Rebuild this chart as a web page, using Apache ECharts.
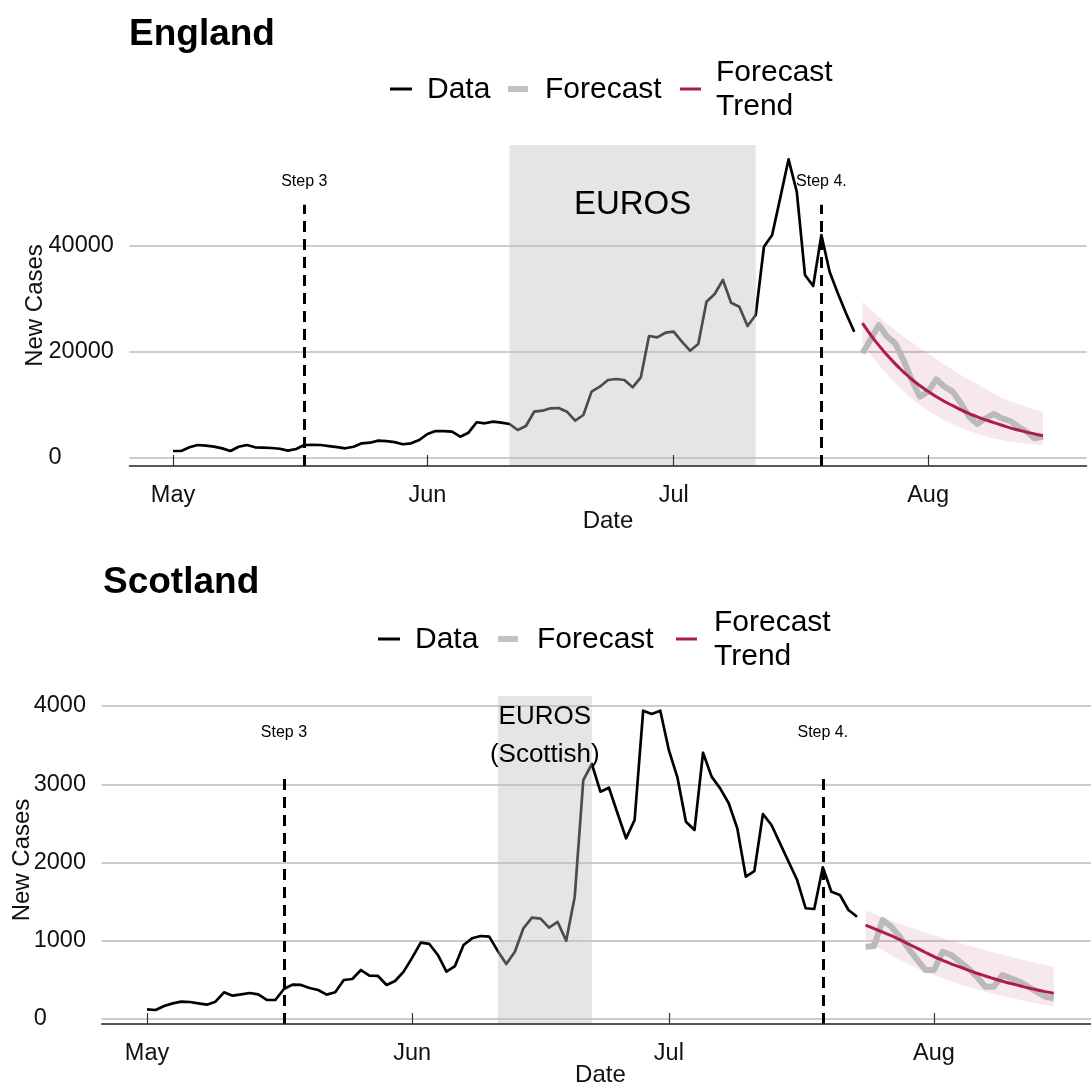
<!DOCTYPE html>
<html>
<head>
<meta charset="utf-8">
<script src="https://cdn.jsdelivr.net/npm/echarts@6/dist/echarts.min.js"></script>
<style>
  html, body { margin: 0; padding: 0; background: #ffffff; }
  #chart { width: 1091px; height: 1083px; }
</style>
</head>
<body>
<div id="chart"></div>
<script>
// Days are counted from 1 May 2021 (day 0).
const monthTickDays = [0, 31, 61, 92];
const monthTickLabels = ['May', 'Jun', 'Jul', 'Aug'];
const dataStartDay = 0;        // 1 May
const forecastStartDay = 84;   // 24 Jul
const step3Day = 16;           // 17 May
const step4Day = 79;           // 19 Jul
const eurosStartDay = 41;      // 11 Jun
const eurosEndEngland = 71;    // 11 Jul (final)
const eurosEndScotland = 52;   // 22 Jun (last Scotland match)

// England: daily new cases, 1 May - 23 Jul
const englandCases = [
  1230, 1230, 1930, 2360, 2230, 2050, 1720, 1230, 2040, 2360,
  1930, 1870, 1800, 1660, 1290, 1610, 2360, 2380, 2360, 2150,
  1950, 1740, 2040, 2680, 2800, 3180, 3100, 2900, 2500, 2680,
  3310, 4440, 5010, 5000, 4880, 3930, 4690, 6660, 6470, 6770,
  6580, 6340, 5200, 5960, 8660, 8850, 9300, 9360, 8660, 6960,
  8040, 12450, 13390, 14660, 14850, 14660, 13270, 15160, 22980, 22730,
  23600, 23790, 21900, 20200, 21460, 29460, 30920, 33570, 29270, 28520,
  24870, 26950, 39860, 42080, 49200, 56390, 50260, 34510, 32430, 42080,
  35140, 31050, 27270, 23790
];
// England: forecast 24 Jul - 15 Aug
const englandForecast = [
  19700, 22300, 25060, 22850, 21590, 18440, 14660, 11500, 12450, 14780,
  13390, 12450, 10250, 7720, 6340, 7410, 8230, 7410, 6900, 5820,
  4880, 3630, 3940
];
const englandTrend = [
  25400, 23200, 21200, 19400, 17700, 16200, 14800, 13600, 12500, 11500,
  10600, 9800, 9000, 8300, 7700, 7100, 6600, 6100, 5600, 5200,
  4800, 4450, 4120
];
const englandTrendUpper = [
  29400, 28000, 26600, 25300, 24100, 22900, 21800, 20700, 19600, 18600,
  17600, 16600, 15600, 14700, 13900, 13000, 12100, 11300, 10700, 10100,
  9600, 9100, 8600
];
const englandTrendLower = [
  21600, 19500, 17500, 15700, 14000, 12500, 11100, 9900, 8800, 7900,
  7000, 6300, 5600, 5000, 4500, 4000, 3600, 3300, 3000, 2800,
  2600, 2400, 2300
];

// Scotland: daily new cases, 1 May - 23 Jul
const scotlandCases = [
  124, 115, 166, 200, 221, 217, 200, 183, 221, 341,
  298, 315, 332, 315, 243, 243, 383, 439, 435, 396,
  370, 311, 341, 498, 511, 626, 554, 550, 435, 486,
  605, 784, 975, 959, 818, 605, 677, 946, 1031, 1061,
  1052, 870, 703, 860, 1159, 1295, 1282, 1167, 1240, 1001,
  1563, 3054, 3259, 2905, 2956, 2629, 2309, 2543, 3940, 3898,
  3940, 3438, 3089, 2522, 2415, 3403, 3097, 2948, 2757, 2437,
  1819, 1891, 2620, 2479, 2245, 2010, 1776, 1415, 1406, 1939,
  1627, 1585, 1393, 1307
];
// Scotland: forecast 24 Jul - 15 Aug
const scotlandForecast = [
  924, 933, 1265, 1180, 1052, 903, 763, 626, 626, 860,
  818, 733, 648, 541, 413, 413, 562, 520, 477, 413,
  349, 285, 264
];
const scotlandTrend = [
  1201, 1155, 1110, 1065, 1015, 960, 905, 850, 798, 750,
  705, 665, 625, 585, 550, 515, 483, 453, 425, 398,
  373, 350, 328
];
const scotlandTrendUpper = [
  1390, 1345, 1300, 1260, 1220, 1180, 1140, 1105, 1070, 1035,
  1000, 970, 940, 910, 880, 850, 820, 795, 770, 740,
  715, 690, 670
];
const scotlandTrendLower = [
  1030, 950, 880, 815, 755, 700, 650, 600, 560, 520,
  480, 445, 410, 380, 350, 320, 295, 270, 245, 220,
  200, 180, 160
];

const englandYTicks = [0, 20000, 40000];
const scotlandYTicks = [0, 1000, 2000, 3000, 4000];

// ---- styling ----
const FONT = '"Liberation Sans", Arial, Helvetica, sans-serif';
const TREND_RED = '#ad1d47';
const FORECAST_GREY = '#bababa';
const GRID_GREY = '#cccccc';

function pairs(startDay, values) {
  return values.map((v, i) => [startDay + i, v]);
}

// One polygon per panel: upper edge left-to-right, then lower edge back.
function ribbonSeries(xi, upper, lower) {
  const rows = upper.map((u, i) => [forecastStartDay + i, u, lower[i]]);
  return {
    type: 'custom', xAxisIndex: xi, yAxisIndex: xi, z: 2, silent: true,
    data: rows,
    encode: { x: 0, y: [1, 2] },
    renderItem: function (params, api) {
      if (params.dataIndex !== 0) return null;
      const top = rows.map(r => api.coord([r[0], r[1]]));
      const bottom = rows.slice().reverse().map(r => api.coord([r[0], r[2]]));
      return {
        type: 'polygon',
        shape: { points: top.concat(bottom) },
        style: { fill: 'rgba(176,32,74,0.10)' }
      };
    }
  };
}

function panel(idx, cfg) {
  const xi = idx, yi = idx;
  const yMin = cfg.yMin, yMax = cfg.yMax;
  const series = [];
  // horizontal grid lines, beneath everything else
  series.push({
    type: 'line', xAxisIndex: xi, yAxisIndex: yi, data: [], z: 1, silent: true,
    markLine: {
      z: 1, silent: true, symbol: 'none', animation: false,
      label: { show: false },
      lineStyle: { color: GRID_GREY, width: 2, type: 'solid' },
      data: cfg.yTicks.map(v => ({ yAxis: v }))
    }
  });
  // uncertainty ribbon around the trend
  series.push(ribbonSeries(xi, cfg.upper, cfg.lower));
  // forecast
  series.push({
    name: 'Forecast', type: 'line', xAxisIndex: xi, yAxisIndex: yi, z: 3,
    symbol: 'none',
    lineStyle: { color: FORECAST_GREY, width: 6, join: 'round' },
    data: pairs(forecastStartDay, cfg.forecast)
  });
  // trend
  series.push({
    name: 'Forecast Trend', type: 'line', xAxisIndex: xi, yAxisIndex: yi, z: 4,
    symbol: 'none', smooth: true,
    lineStyle: { color: TREND_RED, width: 3 },
    data: pairs(forecastStartDay, cfg.trend)
  });
  // observed data
  series.push({
    name: 'Data', type: 'line', xAxisIndex: xi, yAxisIndex: yi, z: 3,
    symbol: 'none',
    lineStyle: { color: '#000000', width: 2.7, join: 'round' },
    data: pairs(dataStartDay, cfg.cases)
  });
  // EUROS shaded period, translucent and drawn over the data line
  series.push({
    type: 'line', xAxisIndex: xi, yAxisIndex: yi, data: [], z: 5, silent: true,
    markArea: {
      z: 5, silent: true,
      itemStyle: { color: 'rgba(190,190,190,0.40)' },
      label: { show: false },
      data: [[{ xAxis: eurosStartDay, yAxis: yMin }, { xAxis: cfg.eurosEnd, yAxis: yMax }]]
    }
  });
  // step lines and their labels, EUROS label
  series.push({
    type: 'line', xAxisIndex: xi, yAxisIndex: yi, data: [], z: 6, silent: true,
    markLine: {
      z: 6, silent: true, symbol: 'none', animation: false,
      label: { show: false },
      lineStyle: { color: '#000000', width: 3, type: [11, 7] },
      data: [
        [{ coord: [step3Day, yMin] }, { coord: [step3Day, cfg.stepTop] }],
        [{ coord: [step4Day, yMin] }, { coord: [step4Day, cfg.stepTop] }]
      ]
    },
    markPoint: {
      z: 7, silent: true, symbol: 'circle', symbolSize: 0, animation: false,
      itemStyle: { color: 'transparent' },
      data: [
        { coord: [step3Day, cfg.stepLabelY], label: { formatter: 'Step 3', fontSize: 16 } },
        { coord: [step4Day, cfg.stepLabelY], label: { formatter: 'Step 4.', fontSize: 16 } },
        { coord: [(eurosStartDay + cfg.eurosEnd) / 2, cfg.eurosLabelY],
          label: { formatter: cfg.eurosText, fontSize: cfg.eurosFont, lineHeight: cfg.eurosLineHeight } }
      ],
      label: { show: true, position: 'inside', color: '#000000', fontFamily: FONT }
    }
  });
  return series;
}

const englandCfg = {
  cases: englandCases, forecast: englandForecast, trend: englandTrend,
  upper: englandTrendUpper, lower: englandTrendLower,
  yMin: -1608, yMax: 59100, yTicks: englandYTicks,
  stepTop: 47800, stepLabelY: 52100,
  eurosEnd: eurosEndEngland, eurosText: 'EUROS', eurosLabelY: 47750,
  eurosFont: 33, eurosLineHeight: 38
};
const scotlandCfg = {
  cases: scotlandCases, forecast: scotlandForecast, trend: scotlandTrend,
  upper: scotlandTrendUpper, lower: scotlandTrendLower,
  yMin: -64, yMax: 4128, yTicks: scotlandYTicks,
  stepTop: 3150, stepLabelY: 3655,
  eurosEnd: eurosEndScotland, eurosText: 'EUROS\n(Scottish)', eurosLabelY: 3617,
  eurosFont: 26, eurosLineHeight: 38
};

function xAxisFor(gridIndex, nameGap) {
  return {
    type: 'value', gridIndex: gridIndex, min: -5.3, max: 111.3,
    name: 'Date', nameLocation: 'middle', nameGap: nameGap, nameMoveOverlap: false,
    nameTextStyle: { fontSize: 24, color: '#111111', fontFamily: FONT },
    z: 10,
    axisLine: { show: true, onZero: false, lineStyle: { color: '#222222', width: 1.5 } },
    axisTick: { show: true, inside: true, length: 11, customValues: monthTickDays,
                lineStyle: { color: '#333333', width: 1.2 } },
    axisLabel: { customValues: monthTickDays, margin: 18, fontSize: 23.5, color: '#111111',
                 fontFamily: FONT,
                 formatter: v => monthTickLabels[monthTickDays.indexOf(Math.round(v))] || '' },
    splitLine: { show: false }
  };
}
function yAxisFor(gridIndex, cfg, labelMargin, nameGap) {
  return {
    type: 'value', gridIndex: gridIndex, min: cfg.yMin, max: cfg.yMax,
    name: 'New Cases', nameLocation: 'middle', nameGap: nameGap, nameRotate: 90,
    nameMoveOverlap: false,
    nameTextStyle: { fontSize: 24, color: '#111111', fontFamily: FONT },
    axisLine: { show: false }, axisTick: { show: false },
    axisLabel: { customValues: cfg.yTicks, align: 'left', margin: labelMargin,
                 fontSize: 23.5, color: '#111111', fontFamily: FONT,
                 formatter: v => String(Math.round(v)) },
    splitLine: { show: false }
  };
}

function legendGraphics(cfg) {
  const y = cfg.y;
  return [
    { type: 'line', shape: { x1: cfg.dataIcon, y1: y - 1, x2: cfg.dataIcon + 22, y2: y - 1 },
      style: { stroke: '#000000', lineWidth: 3 } },
    { type: 'text', x: cfg.dataText, y: y,
      style: { text: 'Data', font: '30px ' + FONT, fill: '#000000', verticalAlign: 'middle' } },
    { type: 'line', shape: { x1: cfg.fcIcon, y1: y - 1, x2: cfg.fcIcon + 20, y2: y - 1 },
      style: { stroke: '#c2c2c2', lineWidth: 6 } },
    { type: 'text', x: cfg.fcText, y: y,
      style: { text: 'Forecast', font: '30px ' + FONT, fill: '#000000', verticalAlign: 'middle' } },
    { type: 'line', shape: { x1: cfg.trIcon, y1: y - 1, x2: cfg.trIcon + 21, y2: y - 1 },
      style: { stroke: TREND_RED, lineWidth: 3 } },
    { type: 'text', x: cfg.trText, y: y,
      style: { text: 'Forecast\nTrend', font: '30px ' + FONT, lineHeight: 34,
               fill: '#000000', verticalAlign: 'middle' } }
  ];
}

const chart = echarts.init(document.getElementById('chart'), null, { renderer: 'canvas' });
chart.setOption({
  animation: false,
  backgroundColor: '#ffffff',
  textStyle: { fontFamily: FONT },
  title: [
    { text: 'England', left: 129, top: 16, padding: 0,
      textStyle: { fontSize: 37, fontWeight: 'bold', color: '#000000', lineHeight: 37 } },
    { text: 'Scotland', left: 103, top: 564, padding: 0,
      textStyle: { fontSize: 37, fontWeight: 'bold', color: '#000000', lineHeight: 37 } }
  ],
  grid: [
    { left: 129.5, top: 145, width: 957, height: 321, containLabel: false, outerBoundsMode: 'none' },
    { left: 101.7, top: 696, width: 997.4, height: 328, containLabel: false, outerBoundsMode: 'none' }
  ],
  xAxis: [xAxisFor(0, 43), xAxisFor(1, 39)],
  yAxis: [yAxisFor(0, englandCfg, 81, 82), yAxisFor(1, scotlandCfg, 68, 67)],
  series: panel(0, englandCfg).concat(panel(1, scotlandCfg)),
  graphic: legendGraphics({ y: 90, dataIcon: 390, dataText: 427, fcIcon: 508, fcText: 545, trIcon: 680, trText: 716 })
    .concat(legendGraphics({ y: 640, dataIcon: 378, dataText: 415, fcIcon: 498, fcText: 537, trIcon: 676, trText: 714 }))
});
</script>
</body>
</html>
